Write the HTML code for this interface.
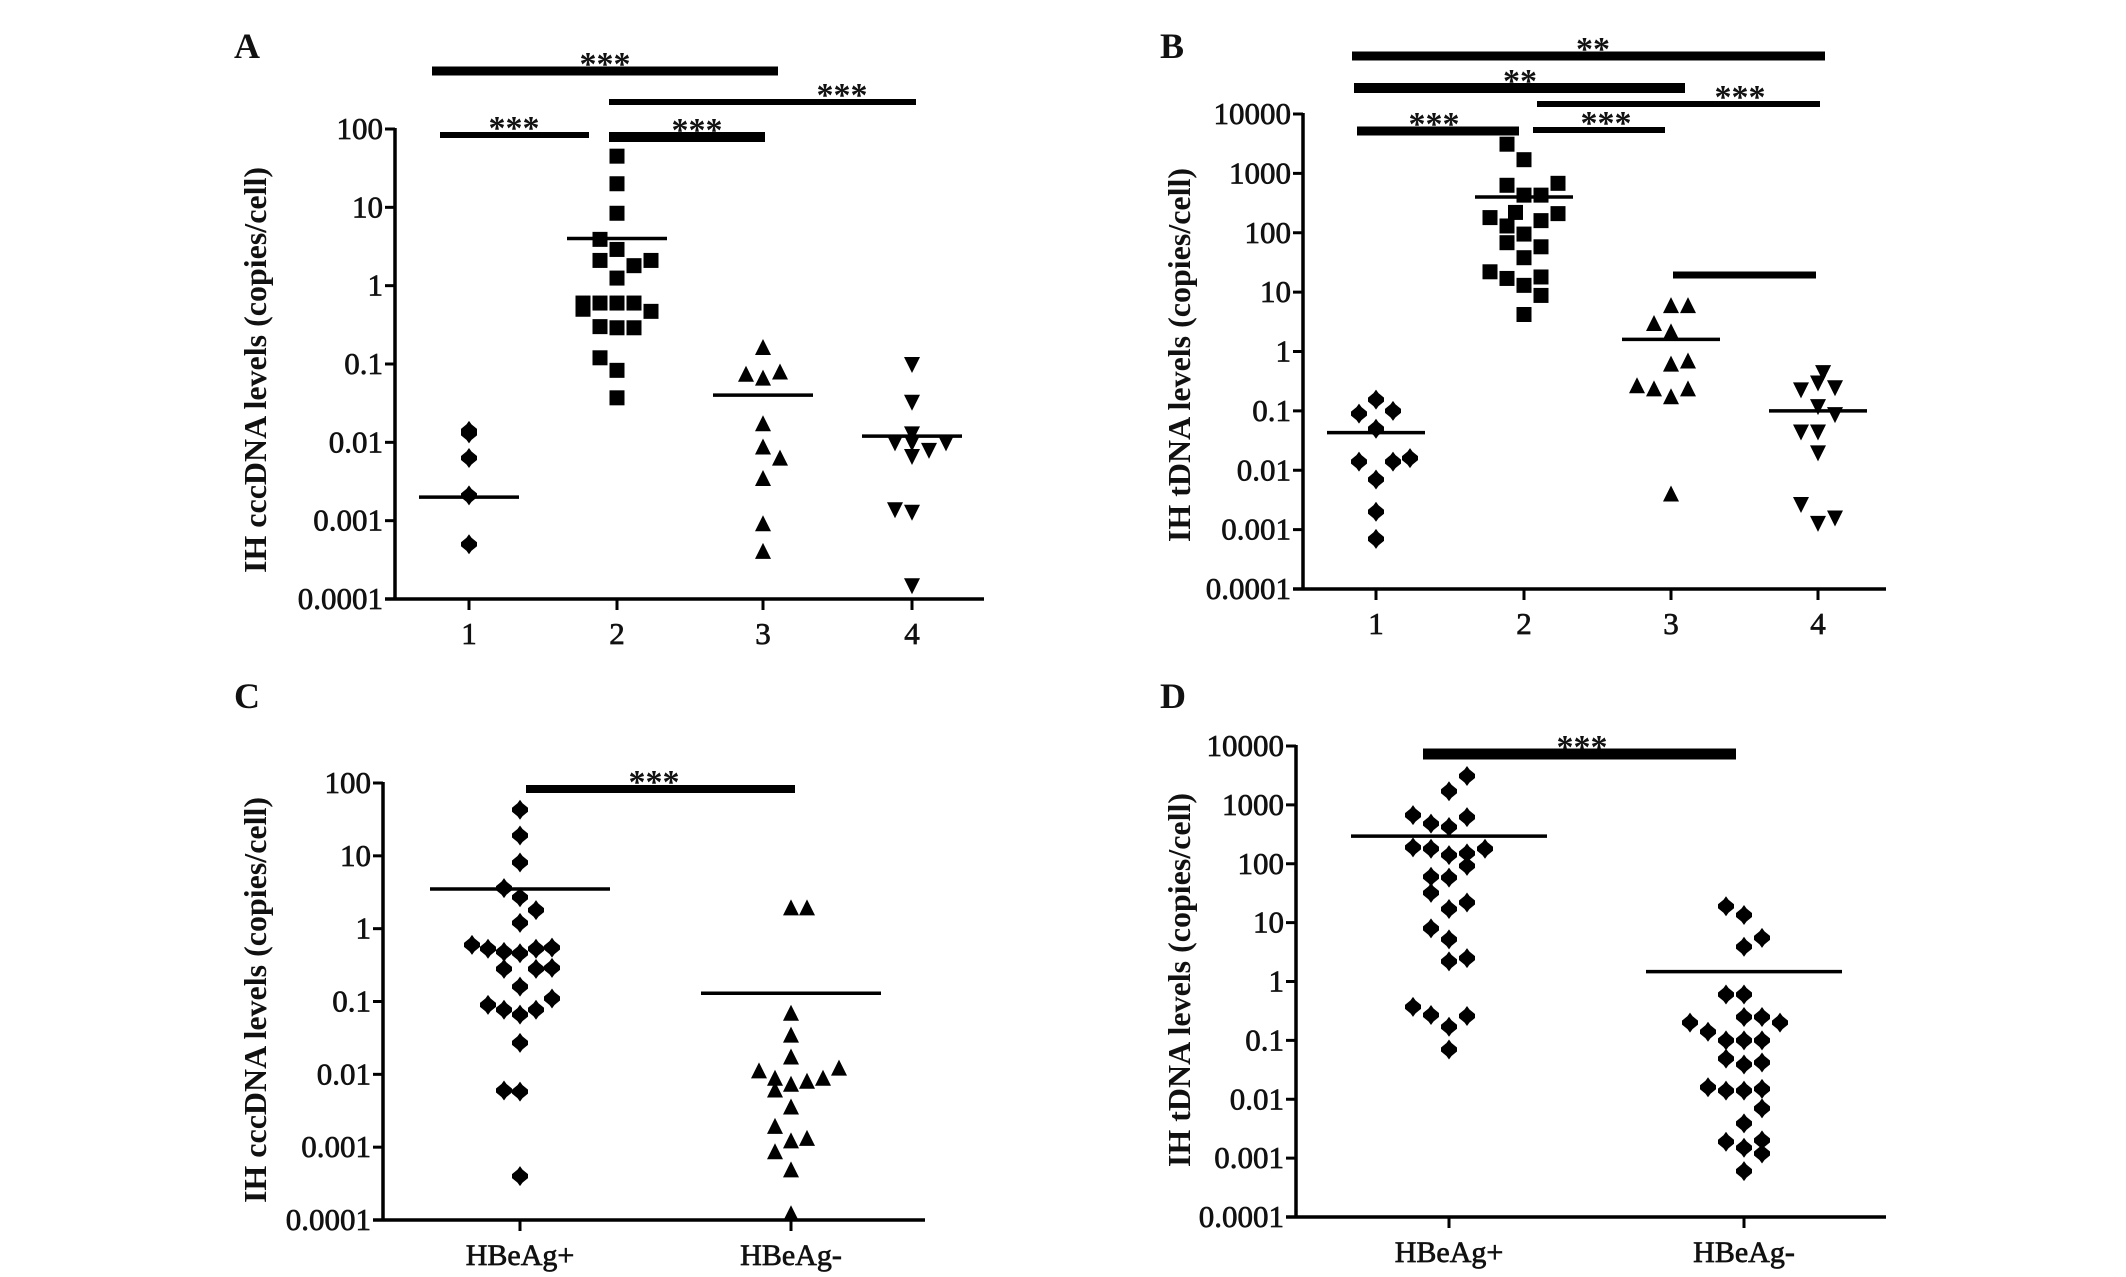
<!DOCTYPE html>
<html><head><meta charset="utf-8"><style>
html,body{margin:0;padding:0;background:#fff;}
svg{display:block;}
text{font-family:"Liberation Serif",serif;fill:#111;}
</style></head><body>
<svg id="fig" width="2126" height="1277" viewBox="0 0 2126 1277"></svg>
<script>
// ---- Panel A data (cccDNA, groups 1-4) ----
const aValues1=[0.013,0.014,0.0063,0.0021,0.0005];
const aCols1=[0,0,0,0,0];
const aValues2=[45,20,8.4,3.9,2.9,2.1,2.1,1.8,1.25,0.6,0.5,0.6,0.6,0.6,0.47,0.3,0.29,0.29,0.12,0.083,0.037];
const aCols2=[0,0,0,-1,0,-1,2,1,0,-2,-2,-1,0,1,2,-1,0,1,-1,0,0];
const aValues3=[0.16,0.073,0.065,0.078,0.017,0.0086,0.0062,0.0034,0.0009,0.0004];
const aCols3=[0,-1,0,1,0,0,1,0,0,0];
const aValues4=[0.1,0.033,0.013,0.01,0.01,0.008,0.01,0.0067,0.0014,0.0013,0.00015];
const aCols4=[0,0,0,-1,0,1,2,0,-1,0,0];
const aMeans=[0.002,4.0,0.04,0.012];
// ---- Panel B data (tDNA, groups 1-4) ----
const bValues1=[0.09,0.155,0.1,0.05,0.014,0.014,0.016,0.007,0.002,0.0007];
const bCols1=[-1,0,1,0,-1,1,2,0,0,0];
const bValues2=[3100,1700,630,680,430,430,180,220,160,210,130,95,68,58,38,22,17,18,13,8.8,4.2];
const bCols2=[-1,0,-1,2,0,1,-2,-0.5,1,2,-1,0,-1,1,0,-2,-1,1,0,1,0];
const bValues3=[5.8,5.8,2.9,2.1,0.6,0.68,0.26,0.23,0.17,0.23,0.0039];
const bCols3=[0,1,-1,0,0,1,-2,-1,0,1,0];
const bValues4=[0.45,0.23,0.3,0.25,0.12,0.088,0.045,0.045,0.02,0.0027,0.0013,0.0016];
const bCols4=[0.3,-1,0,1,0,1,-1,0,0,-1,0,1];
const bMeans=[0.043,400,1.6,0.1];
// ---- Panel C data (cccDNA, HBeAg+/-) ----
const cValuesPos=[43,19,8.1,3.6,2.7,1.8,1.2,0.6,0.53,0.48,0.46,0.53,0.55,0.28,0.28,0.29,0.16,0.11,0.09,0.077,0.066,0.077,0.027,0.006,0.0058,0.0004];
const cColsPos=[0,0,0,-1,0,1,0,-3,-2,-1,0,1,2,-1,1,2,0,2,-2,-1,0,1,0,-1,0,0];
const cValuesNeg=[1.9,1.9,0.068,0.034,0.017,0.011,0.012,0.0087,0.0072,0.0079,0.0087,0.006,0.0035,0.0019,0.0012,0.0013,0.00085,0.00048,0.00012];
const cColsNeg=[0,1,0,0,0,-2,3,-1,0,1,2,-1,0,-1,0,1,-1,0,0];
const cMeans=[3.5,0.13];
// ---- Panel D data (tDNA, HBeAg+/-) ----
const dValuesPos=[3100,1700,670,620,480,420,190,180,140,150,180,92,60,58,32,22,17,8,5.2,2.5,2.2,0.37,0.27,0.26,0.17,0.07];
const dColsPos=[1,0,-2,1,-1,0,-2,-1,0,1,2,1,-1,0,-1,1,0,-1,0,1,0,-2,-1,1,0,0];
const dValuesNeg=[19,13.5,5.5,3.9,0.6,0.6,0.2,0.14,0.25,0.25,0.2,0.1,0.1,0.1,0.049,0.039,0.042,0.016,0.014,0.014,0.015,0.007,0.0039,0.0019,0.0015,0.002,0.0012,0.0006];
const dColsNeg=[-1,0,1,0,-1,0,-3,-2,0,1,2,-1,0,1,-1,0,1,-2,-1,0,1,1,0,-1,0,1,1,0];
const dMeans=[295,1.47];
const catLabels14=["1","2","3","4"];
const catLabelsHB=["HBeAg+","HBeAg-"];
const tickLabels=["0.0001","0.001","0.01","0.1","1","10","100","1000","10000"];

const NS="http://www.w3.org/2000/svg";
const svg=document.getElementById('fig');
function mk(tag,attrs,parent){const e=document.createElementNS(NS,tag);for(const k in attrs)e.setAttribute(k,attrs[k]);(parent||svg).appendChild(e);return e;}

function marker(g,shape,x,y){
  let e;
  if(shape==='square'){
    e=mk('rect',{x:x-7.5,y:y-7.5,width:15,height:15,fill:'#000'},g);
  }else if(shape==='diamond'){
    e=mk('path',{d:`M${x},${y-10}L${x+2.5},${y-6.5}L${x+8},${y-2}L${x+8},${y+2}L${x+2.5},${y+6.5}L${x},${y+10}L${x-2.5},${y+6.5}L${x-8},${y+2}L${x-8},${y-2}L${x-2.5},${y-6.5}Z`,fill:'#000'},g);
  }else if(shape==='up'){
    e=mk('path',{d:`M${x},${y-9}L${x+8},${y+7}L${x-8},${y+7}Z`,fill:'#000'},g);
  }else{
    e=mk('path',{d:`M${x},${y+9}L${x+8},${y-7}L${x-8},${y-7}Z`,fill:'#000'},g);
  }
  
  
}

function panel(cfg){
  const g=mk('g',{});
  
  
  const dec=(cfg.yBot-cfg.yTop)/(cfg.topExp-cfg.botExp);
  const yS=v=>cfg.yTop+(cfg.topExp-Math.log10(v))*dec;
  const L=mk('text',{x:cfg.letterX,y:cfg.letterY,'font-size':36,'font-weight':'bold'},g);L.textContent=cfg.letter;
  
  const ya=mk('line',{x1:cfg.axisX,y1:cfg.yTop-1,x2:cfg.axisX,y2:cfg.yBot+1.5,stroke:'#000','stroke-width':3.5},g);
  
  const xa=mk('line',{x1:cfg.axisX-10,y1:cfg.yBot,x2:cfg.xEnd,y2:cfg.yBot,stroke:'#000','stroke-width':3.5},g);
  
  for(let e=cfg.botExp;e<=cfg.topExp;e++){
    const y=yS(Math.pow(10,e));
    mk('line',{x1:cfg.axisX-10,y1:y,x2:cfg.axisX,y2:y,stroke:'#000','stroke-width':3},g);
    const t=mk('text',{x:cfg.axisX-12,y:y+10,'font-size':31,'text-anchor':'end',stroke:'#111','stroke-width':0.7},g);
    t.textContent=tickLabels[e+4];
    
  }
  cfg.cats.forEach((cx,i)=>{
    mk('line',{x1:cx,y1:cfg.yBot,x2:cx,y2:cfg.yBot+11,stroke:'#000','stroke-width':3},g);
    const t=mk('text',{x:cx,y:cfg.yBot+45,'font-size':cfg.catSize,'text-anchor':'middle',stroke:'#111','stroke-width':0.7},g);
    t.textContent=cfg.catLabels[i];
    
  });
  const tt=mk('text',{x:0,y:0,'font-size':32,'font-weight':'bold','text-anchor':'middle',transform:`translate(${cfg.titleX},${cfg.titleY}) rotate(-90)`},g);
  tt.textContent=cfg.title;
  
  cfg.series.forEach((s,i)=>{
    s.vals.forEach((v,j)=>marker(g,s.shape,cfg.cats[i]+s.cols[j]*cfg.step,yS(v)));
    const m=mk('line',{x1:cfg.cats[i]-cfg.meanHalf,x2:cfg.cats[i]+cfg.meanHalf,y1:yS(cfg.means[i]),y2:yS(cfg.means[i]),stroke:'#000','stroke-width':3.5},g);
    
  });
  cfg.sig.forEach(b=>{
    const r=mk('rect',{x:b[0],y:b[2]-b[3]/2,width:b[1]-b[0],height:b[3],fill:'#000'},g);
    
    if(b[4]){
      const t=mk('text',{x:b[5],y:b[2]+4,'font-size':34,'font-weight':'bold','text-anchor':'middle'},g);
      t.textContent=b[4];
      
    }
  });
}

panel({name:'panel-a',letter:'A',letterX:234,letterY:58,axisX:395,yTop:129,yBot:599,topExp:2,botExp:-4,xEnd:984,
  cats:[469,617,763,912],catLabels:catLabels14,catSize:31,step:17,meanHalf:50,
  title:'IH cccDNA levels (copies/cell)',titleX:266,titleY:370,
  series:[{vals:aValues1,cols:aCols1,shape:'diamond'},{vals:aValues2,cols:aCols2,shape:'square'},{vals:aValues3,cols:aCols3,shape:'up'},{vals:aValues4,cols:aCols4,shape:'down'}],
  means:aMeans,
  sig:[[432,778,71,9,'***',605],[609,916,102,6,'***',842],[440,589,135,6,'***',514],[609,765,137,10,'***',697]]});

panel({name:'panel-b',letter:'B',letterX:1160,letterY:58,axisX:1303,yTop:114,yBot:589,topExp:4,botExp:-4,xEnd:1886,
  cats:[1376,1524,1671,1818],catLabels:catLabels14,catSize:31,step:17,meanHalf:49,
  title:'IH tDNA levels (copies/cell)',titleX:1190,titleY:355,
  series:[{vals:bValues1,cols:bCols1,shape:'diamond'},{vals:bValues2,cols:bCols2,shape:'square'},{vals:bValues3,cols:bCols3,shape:'up'},{vals:bValues4,cols:bCols4,shape:'down'}],
  means:bMeans,
  sig:[[1352,1825,56,9,'**',1593],[1354,1685,88,10,'**',1520],[1537,1820,104,6,'***',1740],[1357,1519,131,9,'***',1434],[1533,1665,130,6,'***',1606],[1673,1816,275,7,'',0]]});

panel({name:'panel-c',letter:'C',letterX:234,letterY:708,axisX:383,yTop:783,yBot:1220,topExp:2,botExp:-4,xEnd:925,
  cats:[520,791],catLabels:catLabelsHB,catSize:30,step:16,meanHalf:90,
  title:'IH cccDNA levels (copies/cell)',titleX:266,titleY:1000,
  series:[{vals:cValuesPos,cols:cColsPos,shape:'diamond'},{vals:cValuesNeg,cols:cColsNeg,shape:'up'}],
  means:cMeans,
  sig:[[526,795,789,8,'***',654]]});

panel({name:'panel-d',letter:'D',letterX:1160,letterY:708,axisX:1296,yTop:746,yBot:1217,topExp:4,botExp:-4,xEnd:1886,
  cats:[1449,1744],catLabels:catLabelsHB,catSize:30,step:18,meanHalf:98,
  title:'IH tDNA levels (copies/cell)',titleX:1190,titleY:980,
  series:[{vals:dValuesPos,cols:dColsPos,shape:'diamond'},{vals:dValuesNeg,cols:dColsNeg,shape:'diamond'}],
  means:dMeans,
  sig:[[1423,1736,754,11,'***',1582]]});
</script>
</body></html>
